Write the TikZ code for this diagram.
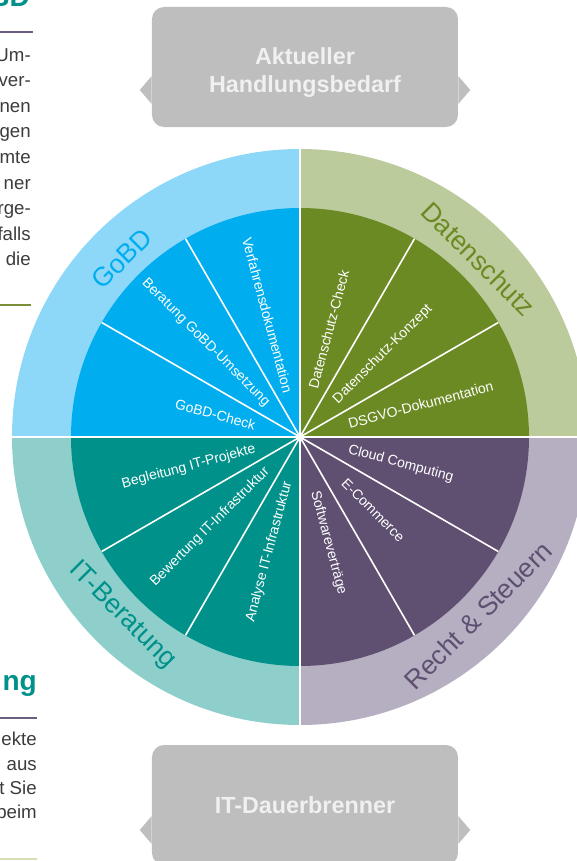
\documentclass[tikz,border=0pt]{standalone}
\usepackage{fontspec}
\setmainfont{Liberation Sans}
\usetikzlibrary{calc}
\definecolor{gobdlight}{HTML}{8DD8F8}
\definecolor{gobddark}{HTML}{00AEEF}
\definecolor{dslight}{HTML}{BCCB9C}
\definecolor{dsdark}{HTML}{6B8A23}
\definecolor{itlight}{HTML}{8ECFCB}
\definecolor{itdark}{HTML}{00918A}
\definecolor{rslight}{HTML}{B6AFC1}
\definecolor{rsdark}{HTML}{5F5072}
\definecolor{cgrey}{HTML}{BEBEBE}
\definecolor{ctext}{HTML}{3C3C3C}
\definecolor{rulepurple}{HTML}{6A5D80}
\definecolor{ruleolive}{HTML}{7B8F38}
\definecolor{rulelight}{HTML}{D5DFB5}
\tikzset{
  every picture/.style={x=0.75pt, y=0.75pt},
  wedgelabel/.style={text=white, font=\fontsize{10.5}{12}\selectfont, inner sep=0pt},
  ringlabel/.style={text=#1, font=\fontsize{20}{24}\selectfont, inner sep=0pt},
  callout/.style={fill=cgrey, rounded corners=9pt, minimum width=229.5pt, minimum height=90pt},
  callouttext/.style={text=white!94!black, font=\fontsize{17.5}{21}\selectfont\bfseries, align=center},
  divider/.style={draw=white, line width=1.2pt},
  quadline/.style={draw=white, line width=1.9pt},
  sidetext/.style={text=ctext, font=\fontsize{14}{19.2}\selectfont, align=right, inner sep=0pt},
  sidehead/.style={text=itdark, font=\fontsize{21}{24}\selectfont\bfseries, inner sep=0pt},
  siderule/.style={draw=#1, line width=2pt},
}

\begin{document}
\begin{tikzpicture}
  \useasboundingbox (-300,437) rectangle (277,-424);
  \clip (-300,437) rectangle (277,-424);
  % outer ring
  \fill[gobdlight] (0,0) -- (90:288) arc (90:180:288) -- cycle;
  \fill[dslight] (0,0) -- (0:288) arc (0:90:288) -- cycle;
  \fill[itlight] (0,0) -- (180:288) arc (180:270:288) -- cycle;
  \fill[rslight] (0,0) -- (270:288) arc (270:360:288) -- cycle;
  % inner wedges
  \fill[gobddark] (0,0) -- (90:229) arc (90:180:229) -- cycle;
  \fill[dsdark] (0,0) -- (0:229) arc (0:90:229) -- cycle;
  \fill[itdark] (0,0) -- (180:229) arc (180:270:229) -- cycle;
  \fill[rsdark] (0,0) -- (270:229) arc (270:360:229) -- cycle;
  \draw[divider] (0,0) -- (120:229) (0,0) -- (150:229) (0,0) -- (60:229) (0,0) -- (30:229)
                 (0,0) -- (210:229) (0,0) -- (240:229) (0,0) -- (-30:229) (0,0) -- (-60:229);
  \draw[quadline] (0,292) -- (0,-292) (-292,0) -- (292,0);

  \node[ringlabel=gobddark, rotate=45] (gobd) at (135:252) {GoBD};
  \node[ringlabel=dsdark, rotate=-45] (daten) at (45:252) {Datenschutz};
  \node[ringlabel=itdark, rotate=-45] (itber) at (225:252) {IT-Beratung};
  \node[ringlabel=rsdark, rotate=45] (recht) at (-45:252) {Recht \& Steuern};

  \node[wedgelabel, anchor=east, rotate=-15] (gcheck) at (165:46) {GoBD-Check};
  \node[wedgelabel, anchor=east, rotate=-45] (gumsetz) at (135:46) {Beratung GoBD-Umsetzung};
  \node[wedgelabel, anchor=east, rotate=-75] (gverf) at (105:46) {Verfahrensdokumentation};
  \node[wedgelabel, anchor=west, rotate=75] (dcheck) at (75:50) {Datenschutz-Check};
  \node[wedgelabel, anchor=west, rotate=45] (dkonz) at (45:50) {Datenschutz-Konzept};
  \node[wedgelabel, anchor=west, rotate=15] (ddsgvo) at (15:50) {DSGVO-Dokumentation};
  \node[wedgelabel, anchor=east, rotate=15] (ibegl) at (195:46) {Begleitung IT-Projekte};
  \node[wedgelabel, anchor=east, rotate=45] (ibew) at (225:46) {Bewertung IT-Infrastruktur};
  \node[wedgelabel, anchor=east, rotate=75] (iana) at (255:46) {Analyse IT-Infrastruktur};
  \node[wedgelabel, anchor=west, rotate=-15] (rcloud) at (-15:50) {Cloud Computing};
  \node[wedgelabel, anchor=west, rotate=-45] (recom) at (-45:62) {E-Commerce};
  \node[wedgelabel, anchor=west, rotate=-75] (rsoft) at (-75:56) {Softwareverträge};

  % callouts
  \node[callout] (bedarf) at (5,370) {};
  \fill[cgrey] ($(bedarf.west)+(0,-9)$) -- ++(-12,-14) -- ++(12,-14) -- cycle;
  \fill[cgrey] ($(bedarf.east)+(0,-9)$) -- ++(12,-14) -- ++(-12,-14) -- cycle;
  \node[callouttext] (bedarftext) at ($(bedarf.center)+(0,-6)$) {Aktueller\\Handlungsbedarf};
  \node[callout] (dauer) at (5,-368) {};
  \fill[cgrey] ($(dauer.west)+(0,-11)$) -- ++(-12,-14) -- ++(12,-14) -- cycle;
  \fill[cgrey] ($(dauer.east)+(0,-11)$) -- ++(12,-14) -- ++(-12,-14) -- cycle;
  \node[callouttext] (dauertext) at (dauer.center) {IT-Dauerbrenner};

  % page fragments on the left
  \node[sidehead, anchor=base east] (headtop) at (-270,430) {BD};
  \draw[siderule=rulepurple] (-300,405) -- (-267,405);
  \node[sidetext, anchor=north east] (texttop) at (-269,389)
    {Um-\\ver-\\nen\\gen\\mte\\ner\\rge-\\falls\\die};
  \draw[siderule=ruleolive] (-300,132) -- (-269,132);
  \node[sidehead, anchor=base east] (headbot) at (-263,-253) {ng};
  \draw[siderule=rulepurple] (-300,-281) -- (-263,-281);
  \node[sidetext, anchor=north east, font=\fontsize{14}{18.2}\selectfont] (textbot) at (-263,-295)
    {ekte\\aus\\t Sie\\beim};
  \draw[siderule=rulelight] (-300,-422) -- (-263,-422);
\end{tikzpicture}
\end{document}
